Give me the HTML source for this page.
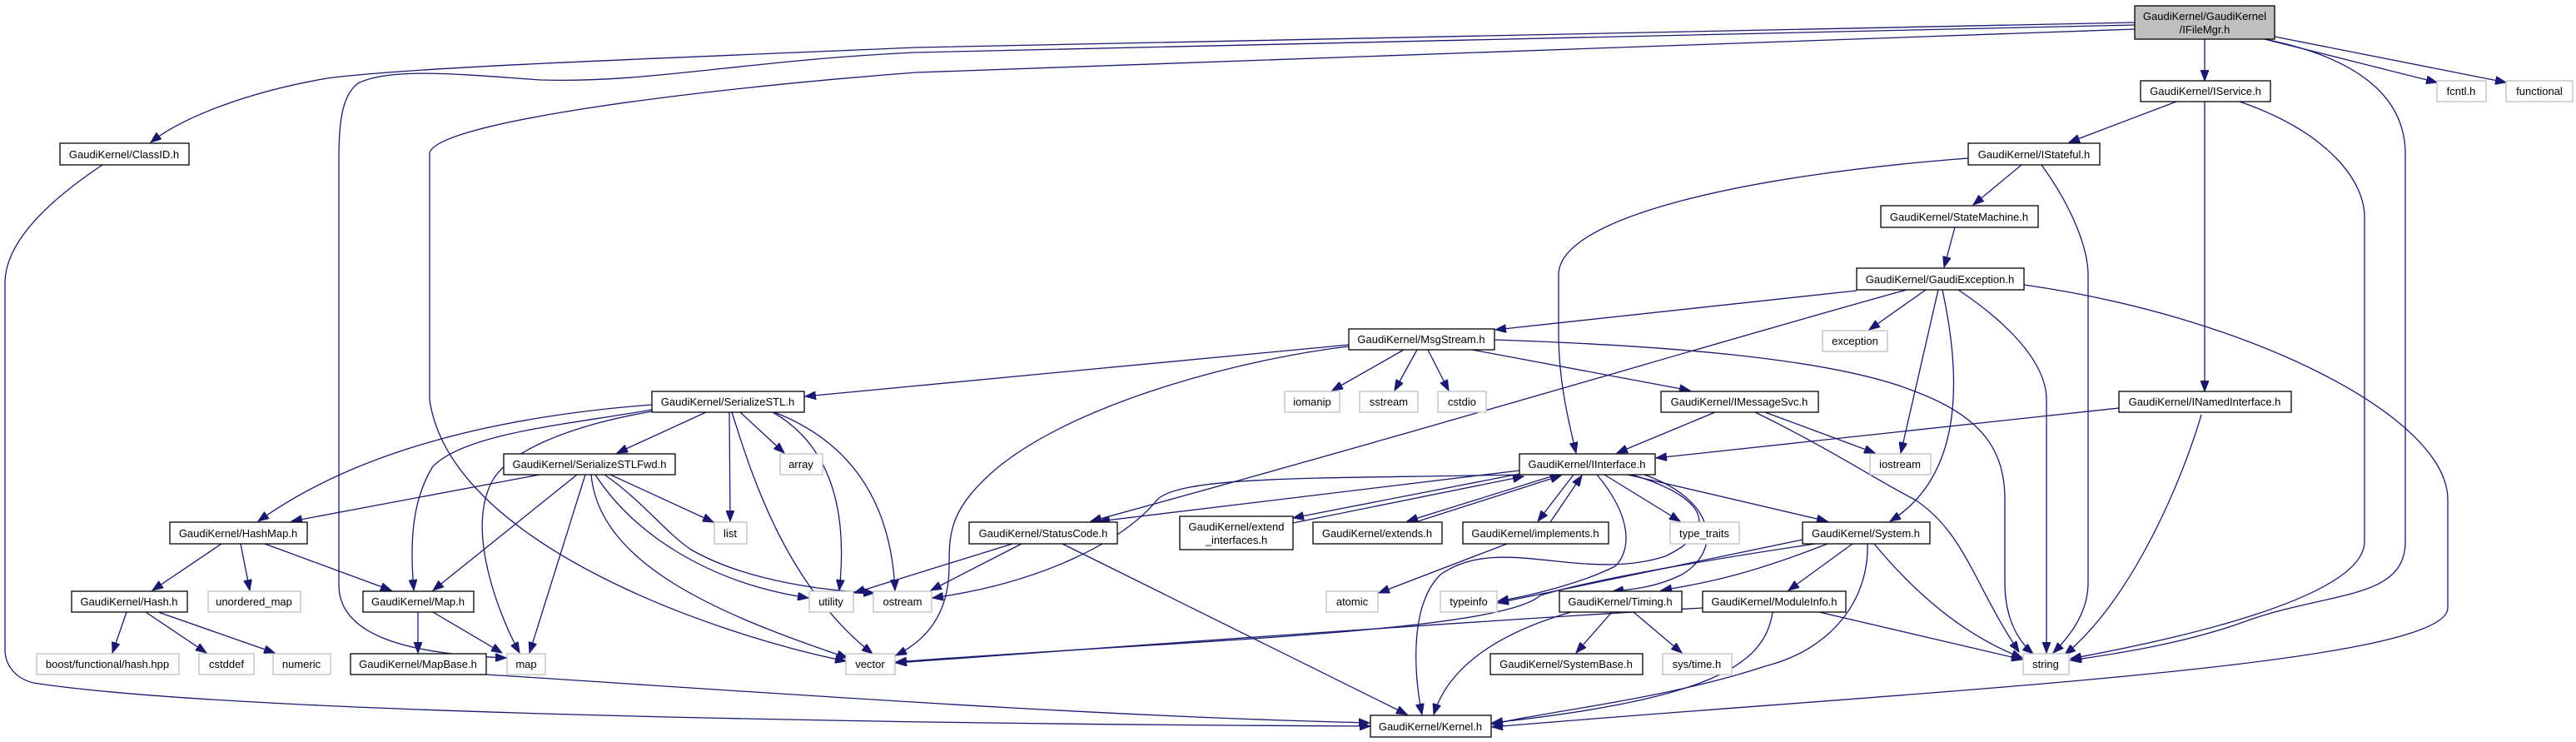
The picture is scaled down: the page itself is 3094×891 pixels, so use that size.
<!DOCTYPE html>
<html><head><meta charset="utf-8"><style>
html,body{margin:0;padding:0;background:#fff;}
svg{display:block;}
text{font-family:"Liberation Sans",Helvetica,Arial,sans-serif;font-size:13px;fill:#000;text-anchor:middle;}
.n{fill:#fff;stroke:#000;stroke-width:1.3;}
.s{fill:#fff;stroke:#bfbfbf;stroke-width:1.3;}
.e{fill:none;stroke:#191970;stroke-width:1.3;marker-end:url(#a);}
</style></head><body>
<svg width="3094" height="891" viewBox="0 0 3094 891" xmlns="http://www.w3.org/2000/svg">
<defs><marker id="a" markerUnits="userSpaceOnUse" markerWidth="14" markerHeight="10" refX="13" refY="5" orient="auto"><path d="M0,0 L13,5 L0,10 z" fill="#191970" stroke="#191970"/></marker></defs>
<g>
<!-- IFileMgr -->
<path class="e" d="M2648,47 L2648,97"/>
<path class="e" d="M2720,47 L2927,99"/>
<path class="e" d="M2732,44 L3010,99"/>
<path class="e" d="M2725,48 C2830,70 2889,115 2889,185 L2889,650 C2889,720 2800,710 2700,745 C2620,775 2520,788 2487,793"/>
<path class="e" d="M2564,27 L1100,57 C800,70 500,80 393,94 C300,110 220,140 181,171"/>
<path class="e" d="M2564,30 L1100,63 C900,72 780,100 650,96 C560,90 470,80 430,100 C410,115 407,150 407,190 L407,700 C405,760 480,785 608,790"/>
<path class="e" d="M2564,35 L1100,87 C800,110 516,150 516,185 L516,480 C540,650 850,760 1016,794"/>
<!-- ClassID -->
<path class="e" d="M123,198 C60,240 6,290 6,340 L6,780 C6,800 20,815 40,820 C300,860 1200,870 1646,872"/>
<!-- IService -->
<path class="e" d="M2614,122 L2485,171"/>
<path class="e" d="M2648,122 L2648,470"/>
<path class="e" d="M2690,122 C2800,160 2840,220 2840,260 L2840,650 C2840,720 2600,770 2487,791"/>
<!-- IStateful -->
<path class="e" d="M2428,198 L2370,246"/>
<path class="e" d="M2452,198 C2490,250 2508,300 2508,330 L2508,700 C2508,740 2480,770 2466,784"/>
<path class="e" d="M2364,190 C2100,210 1872,260 1872,330 L1872,400 C1872,460 1885,510 1893,544"/>
<!-- StateMachine -->
<path class="e" d="M2348,273 L2335,321"/>
<!-- GaudiException -->
<path class="e" d="M2230,349 L1796,396"/>
<path class="e" d="M2290,348 C2100,400 1700,520 1310,626"/>
<path class="e" d="M2313,348 L2245,396"/>
<path class="e" d="M2328,348 L2283,544"/>
<path class="e" d="M2333,348 C2355,450 2360,570 2270,626"/>
<path class="e" d="M2352,348 C2400,380 2458,430 2458,480 L2458,784"/>
<path class="e" d="M2431,342 C2700,380 2940,500 2940,600 L2940,730 C2940,800 2300,830 1792,873"/>
<!-- MsgStream -->
<path class="e" d="M1620,414 L967,476"/>
<path class="e" d="M1686,420 L1600,469"/>
<path class="e" d="M1702,420 L1675,469"/>
<path class="e" d="M1715,420 L1740,469"/>
<path class="e" d="M1768,420 L2030,469"/>
<path class="e" d="M1795,408 C2000,415 2200,430 2300,470 C2380,500 2408,540 2408,600 L2408,700 C2408,750 2430,775 2442,785"/>
<path class="e" d="M1620,416 C1500,430 1300,480 1200,560 C1140,610 1140,640 1140,680 C1140,740 1110,770 1076,787"/>
<!-- IMessageSvc -->
<path class="e" d="M2060,495 L1942,544"/>
<path class="e" d="M2120,495 L2252,544"/>
<path class="e" d="M2108,495 C2200,540 2260,580 2300,600 C2360,640 2370,700 2425,783"/>
<!-- INamedInterface -->
<path class="e" d="M2545,490 L1989,550"/>
<path class="e" d="M2644,498 C2620,580 2560,720 2480,786"/>
<!-- SerializeSTL -->
<path class="e" d="M848,495 L741,544"/>
<path class="e" d="M876,495 L877,626"/>
<path class="e" d="M889,495 L942,544"/>
<path class="e" d="M879,495 C900,560 940,700 1048,785"/>
<path class="e" d="M928,495 C990,530 1020,600 1008,709"/>
<path class="e" d="M930,495 C1020,530 1070,600 1075,709"/>
<path class="e" d="M783,486 C600,500 430,540 310,626"/>
<path class="e" d="M783,492 C680,510 560,520 520,560 C495,600 492,650 497,709"/>
<path class="e" d="M783,494 C690,510 610,540 590,580 C560,640 600,740 624,784"/>
<!-- SerializeSTLFwd -->
<path class="e" d="M648,570 L350,626"/>
<path class="e" d="M693,570 L520,709"/>
<path class="e" d="M703,570 L636,784"/>
<path class="e" d="M733,570 L857,627"/>
<path class="e" d="M715,570 C760,640 850,700 971,718"/>
<path class="e" d="M726,570 C770,600 800,640 830,660 C900,700 1000,710 1050,712"/>
<path class="e" d="M710,570 C720,680 870,740 1018,790"/>
<!-- HashMap -->
<path class="e" d="M266,653 L183,709"/>
<path class="e" d="M289,653 L300,709"/>
<path class="e" d="M318,653 L470,709"/>
<!-- Hash -->
<path class="e" d="M152,735 L135,784"/>
<path class="e" d="M175,735 L248,784"/>
<path class="e" d="M190,735 L330,784"/>
<!-- Map -->
<path class="e" d="M502,735 L502,784"/>
<path class="e" d="M520,735 L603,784"/>
<path class="e" d="M584,810 C900,830 1300,860 1645,868"/>
<!-- StatusCode -->
<path class="e" d="M1227,653 L1118,709"/>
<path class="e" d="M1216,653 L1026,712"/>
<path class="e" d="M1276,653 L1690,858"/>
<!-- IInterface -->
<path class="e" d="M1825,565 L1320,626"/>
<path class="e" d="M1825,570 C1600,575 1420,570 1390,600 C1350,650 1250,700 1120,718"/>
<path class="e" d="M1830,568 L1553,622"/>
<path class="e" d="M1553,628 L1830,572"/>
<path class="e" d="M1870,570 L1690,626"/>
<path class="e" d="M1700,627 L1875,571"/>
<path class="e" d="M1890,570 L1847,626"/>
<path class="e" d="M1862,627 L1900,571"/>
<path class="e" d="M1927,570 L2018,626"/>
<path class="e" d="M1955,570 L2195,626"/>
<path class="e" d="M1918,570 C1960,620 1960,660 1940,680 C1900,700 1840,715 1799,722"/>
<path class="e" d="M1975,570 C2060,600 2070,660 2020,690 C1990,705 1960,708 1937,710"/>
<path class="e" d="M1960,570 C2060,600 2060,640 2000,668 C1900,700 1800,640 1730,690 C1690,730 1700,820 1708,858"/>
<!-- implements -->
<path class="e" d="M1810,653 L1656,712"/>
<!-- System -->
<path class="e" d="M2165,648 L1799,724"/>
<path class="e" d="M2180,653 C2000,680 1900,700 1850,715 C1800,760 1400,770 1076,795"/>
<path class="e" d="M2225,653 L2148,709"/>
<path class="e" d="M2251,653 C2290,700 2350,760 2429,790"/>
<path class="e" d="M2243,653 C2245,720 2200,780 2120,800 C2000,840 1850,855 1792,870"/>
<path class="e" d="M2195,653 C2100,690 2050,700 1995,709"/>
<!-- Timing -->
<path class="e" d="M1936,735 L1893,784"/>
<path class="e" d="M1962,735 L2020,784"/>
<path class="e" d="M1887,735 C1800,760 1740,800 1722,858"/>
<!-- ModuleInfo -->
<path class="e" d="M2045,730 C1700,750 1300,780 1076,796"/>
<path class="e" d="M2185,735 L2429,792"/>
<path class="e" d="M2129,735 C2120,800 2050,840 1792,868"/>
</g>
<g>
<rect x="2564" y="7" width="168" height="40" fill="#bfbfbf" stroke="#000" stroke-width="1.3"/>
<text x="2648" y="24">GaudiKernel/GaudiKernel</text><text x="2648" y="40">/IFileMgr.h</text>

<rect class="n" x="72" y="172" width="155" height="26"/><text x="149" y="190">GaudiKernel/ClassID.h</text>
<rect class="n" x="2571" y="97" width="156" height="25"/><text x="2649" y="114">GaudiKernel/IService.h</text>
<rect class="s" x="2927" y="97" width="59" height="25"/><text x="2956" y="114">fcntl.h</text>
<rect class="s" x="3010" y="97" width="80" height="25"/><text x="3050" y="114">functional</text>
<rect class="n" x="2364" y="172" width="158" height="26"/><text x="2443" y="190">GaudiKernel/IStateful.h</text>
<rect class="n" x="2259" y="247" width="189" height="26"/><text x="2353" y="265">GaudiKernel/StateMachine.h</text>
<rect class="n" x="2230" y="322" width="201" height="26"/><text x="2330" y="340">GaudiKernel/GaudiException.h</text>
<rect class="n" x="1620" y="395" width="175" height="25"/><text x="1707" y="412">GaudiKernel/MsgStream.h</text>
<rect class="s" x="2189" y="397" width="78" height="25"/><text x="2228" y="414">exception</text>
<rect class="n" x="783" y="470" width="183" height="25"/><text x="874" y="487">GaudiKernel/SerializeSTL.h</text>
<rect class="s" x="1543" y="470" width="66" height="25"/><text x="1576" y="487">iomanip</text>
<rect class="s" x="1633" y="470" width="70" height="25"/><text x="1668" y="487">sstream</text>
<rect class="s" x="1727" y="470" width="58" height="25"/><text x="1756" y="487">cstdio</text>
<rect class="n" x="1995" y="470" width="189" height="25"/><text x="2089" y="487">GaudiKernel/IMessageSvc.h</text>
<rect class="n" x="2545" y="470" width="207" height="25"/><text x="2648" y="487">GaudiKernel/INamedInterface.h</text>
<rect class="n" x="605" y="545" width="206" height="25"/><text x="708" y="562">GaudiKernel/SerializeSTLFwd.h</text>
<rect class="s" x="937" y="545" width="51" height="25"/><text x="962" y="562">array</text>
<rect class="n" x="1825" y="545" width="163" height="25"/><text x="1906" y="562">GaudiKernel/IInterface.h</text>
<rect class="s" x="2246" y="545" width="73" height="25"/><text x="2282" y="562">iostream</text>
<rect class="s" x="858" y="627" width="39" height="26"/><text x="877" y="645">list</text>
<rect class="n" x="204" y="627" width="165" height="26"/><text x="286" y="645">GaudiKernel/HashMap.h</text>
<rect class="n" x="1164" y="627" width="178" height="26"/><text x="1253" y="645">GaudiKernel/StatusCode.h</text>
<rect class="n" x="1417" y="620" width="136" height="40"/><text x="1485" y="637">GaudiKernel/extend</text><text x="1485" y="653">_interfaces.h</text>
<rect class="n" x="1577" y="627" width="155" height="26"/><text x="1654" y="645">GaudiKernel/extends.h</text>
<rect class="n" x="1757" y="627" width="175" height="26"/><text x="1844" y="645">GaudiKernel/implements.h</text>
<rect class="s" x="2006" y="627" width="83" height="26"/><text x="2047" y="645">type_traits</text>
<rect class="n" x="2165" y="627" width="153" height="26"/><text x="2241" y="645">GaudiKernel/System.h</text>
<rect class="n" x="86" y="710" width="139" height="25"/><text x="155" y="727">GaudiKernel/Hash.h</text>
<rect class="s" x="250" y="710" width="111" height="25"/><text x="305" y="727">unordered_map</text>
<rect class="n" x="436" y="710" width="133" height="25"/><text x="502" y="727">GaudiKernel/Map.h</text>
<rect class="s" x="972" y="710" width="53" height="25"/><text x="998" y="727">utility</text>
<rect class="s" x="1049" y="710" width="70" height="25"/><text x="1084" y="727">ostream</text>
<rect class="s" x="1593" y="710" width="62" height="25"/><text x="1624" y="727">atomic</text>
<rect class="s" x="1730" y="710" width="68" height="25"/><text x="1764" y="727">typeinfo</text>
<rect class="n" x="1873" y="710" width="147" height="25"/><text x="1946" y="727">GaudiKernel/Timing.h</text>
<rect class="n" x="2045" y="710" width="172" height="25"/><text x="2131" y="727">GaudiKernel/ModuleInfo.h</text>
<rect class="s" x="44" y="785" width="171" height="25"/><text x="129" y="802">boost/functional/hash.hpp</text>
<rect class="s" x="239" y="785" width="66" height="25"/><text x="272" y="802">cstddef</text>
<rect class="s" x="328" y="785" width="69" height="25"/><text x="362" y="802">numeric</text>
<rect class="n" x="421" y="785" width="163" height="25"/><text x="502" y="802">GaudiKernel/MapBase.h</text>
<rect class="s" x="609" y="785" width="46" height="25"/><text x="632" y="802">map</text>
<rect class="s" x="1016" y="785" width="59" height="25"/><text x="1045" y="802">vector</text>
<rect class="n" x="1790" y="785" width="183" height="25"/><text x="1881" y="802">GaudiKernel/SystemBase.h</text>
<rect class="s" x="1997" y="785" width="83" height="25"/><text x="2038" y="802">sys/time.h</text>
<rect class="s" x="2430" y="785" width="55" height="25"/><text x="2457" y="802">string</text>
<rect class="n" x="1646" y="859" width="145" height="26"/><text x="1718" y="877">GaudiKernel/Kernel.h</text>
</g>
</svg>
</body></html>
